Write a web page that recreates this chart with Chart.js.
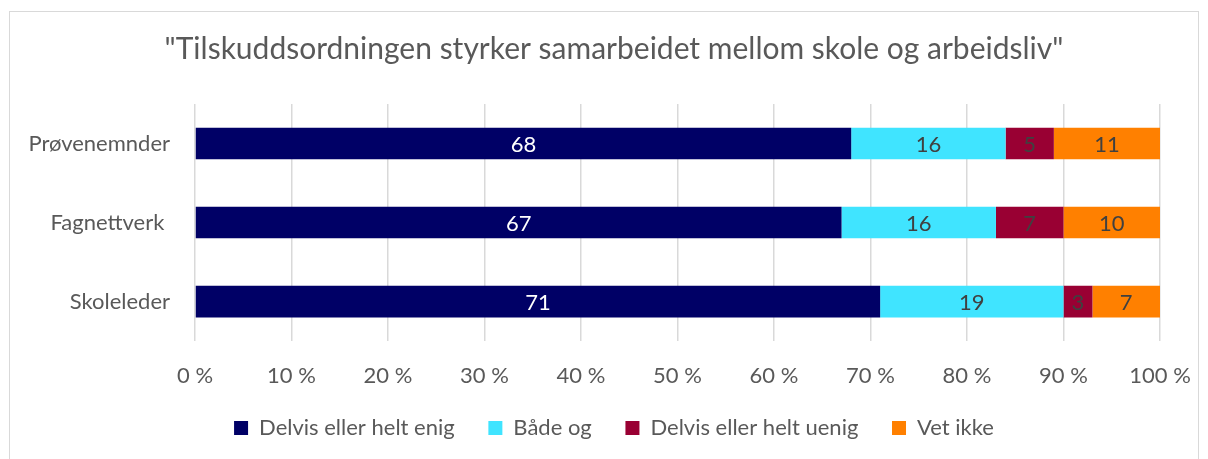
<!DOCTYPE html>
<html>
<head>
<meta charset="utf-8">
<script src="https://cdn.jsdelivr.net/npm/chart.js@4"></script>
<style>
  html, body { margin: 0; padding: 0; background: #fff; }
  #wrap { width: 1208px; height: 459px; }
</style>
</head>
<body>
<div id="wrap"><canvas id="chart" width="1208" height="459"></canvas></div>
<script>
const categories = ["Prøvenemnder", "Fagnettverk ", "Skoleleder"];
const enig = [68, 67, 71];
const baadeOg = [16, 16, 19];
const uenig = [5, 7, 3];
const vetIkke = [11, 10, 7];
const xTicks = [0, 10, 20, 30, 40, 50, 60, 70, 80, 90, 100];

const FONT = "Lato, sans-serif";
const GREY = "#595959";
const SIZE = 22;

// draws the value in the middle of every bar segment
const barLabels = {
    id: "barLabels",
    afterDatasetsDraw(chart){
        const c = chart.ctx;
        c.save();
        c.font = SIZE + "px " + FONT;
        c.textAlign = "center";
        c.textBaseline = "middle";
        chart.data.datasets.forEach((ds, i)=>{
            chart.getDatasetMeta(i).data.forEach((bar, j)=>{
                const x = (bar.x + bar.base) / 2;
                c.fillStyle = i === 0 ? "#ffffff" : "#404040";
                c.fillText(ds.data[j], x, bar.y + 1);
            });
        });
        c.restore();
    }
};

const frame = {
    id: "frame",
    beforeDraw(chart){
        const c = chart.ctx;
        c.save();
        c.strokeStyle = "#d9d9d9";
        c.lineWidth = 1;
        c.strokeRect(9.5, 11.5, 1189, 460);
        c.restore();
    }
};

new Chart(document.getElementById("chart"), {
    type: "bar",
    data: {
        labels: categories,
        datasets: [
            { label: "Delvis eller helt enig", data: enig, backgroundColor: "#000066" },
            { label: "Både og", data: baadeOg, backgroundColor: "#40E4FF" },
            { label: "Delvis eller helt uenig", data: uenig, backgroundColor: "#990033" },
            { label: "Vet ikke", data: vetIkke, backgroundColor: "#FF8000" }
        ]
    },
    options: {
        indexAxis: "y",
        responsive: false,
        animation: false,
        layout: { padding: { left: 20, right: 0, top: 0, bottom: 10 } },
        datasets: { bar: { barPercentage: 0.4, categoryPercentage: 1 } },
        scales: {
            x: {
                stacked: true,
                min: 0,
                max: 100,
                afterBuildTicks(axis){
                    axis.ticks = xTicks.map(v => ({ value: v }));
                },
                afterFit(axis){
                    axis.paddingLeft = 0;
                    axis.paddingRight = 0;
                },
                ticks: {
                    callback: v => v + " %",
                    color: GREY,
                    font: { family: FONT, size: SIZE },
                    padding: 22
                },
                grid: { color: "#d9d9d9", lineWidth: 1.5, drawTicks: false },
                border: { display: false }
            },
            y: {
                stacked: true,
                afterFit(axis){ axis.width = 175; },
                ticks: {
                    color: GREY,
                    font: { family: FONT, size: SIZE },
                    padding: 25
                },
                grid: { display: false, drawTicks: false },
                border: { display: false }
            },
            // empty right margin so title and legend centre like the original
            yRight: {
                type: "linear",
                position: "right",
                afterFit(axis){ axis.width = 48; },
                ticks: { display: false },
                grid: { display: false, drawTicks: false },
                border: { display: false }
            }
        },
        plugins: {
            title: {
                display: true,
                text: "\"Tilskuddsordningen styrker samarbeidet mellom skole og arbeidsliv\"",
                color: GREY,
                font: { family: FONT, size: 30, weight: "normal" },
                padding: { top: 31, bottom: 37 }
            },
            legend: {
                position: "bottom",
                labels: {
                    color: GREY,
                    font: { family: FONT, size: SIZE },
                    boxWidth: 14,
                    boxHeight: 14,
                    padding: 5.5,
                    generateLabels(chart){
                        const items = Chart.defaults.plugins.legend.labels.generateLabels(chart);
                        items.forEach((it, i) => {
                            if (i < items.length - 1) it.text = it.text + "     ";
                        });
                        return items;
                    }
                }
            },
            tooltip: { enabled: false }
        }
    },
    plugins: [barLabels, frame]
});
</script>
</body>
</html>
